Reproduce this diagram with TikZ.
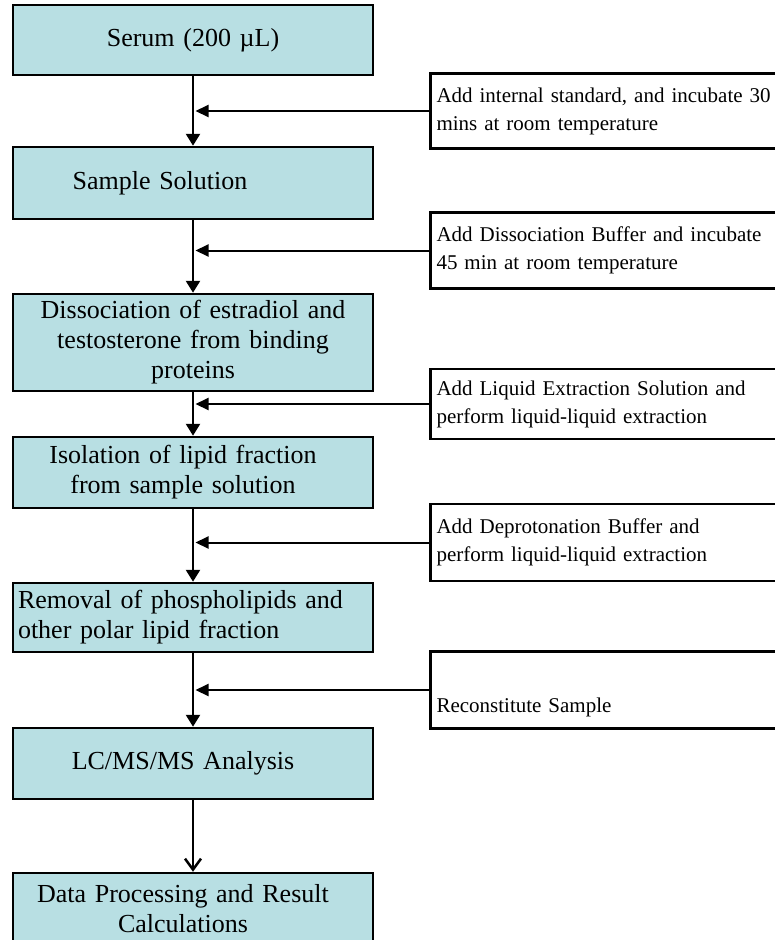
\documentclass[tikz,border=0pt]{standalone}
\usepackage{fontspec}
\setmainfont{Liberation Serif}
\usetikzlibrary{arrows.meta,positioning,calc}
\definecolor{stepfill}{RGB}{184,223,227}
\newcommand{\pushleft}[1]{\hspace{#1}\mbox{}}

\begin{document}
\begin{tikzpicture}[
  x=1pt, y=-1pt,
  stage/.style={rectangle, draw, line width=2.5pt, fill=stepfill,
                text width=350pt, align=center, inner xsep=5pt,
                font=\fontsize{26}{30}\selectfont, minimum height=71pt},
  note/.style={rectangle, draw, line width=2.2pt, fill=white,
               text width=345pt, align=left, inner xsep=6pt,
               font=\fontsize{21}{28}\selectfont, minimum height=76pt},
  arr/.style={draw, line width=2.5pt, -{Triangle[length=12pt,width=14pt]}},
  harr/.style={draw, line width=2pt, -{Triangle[length=13pt,width=12pt]},
               shorten >=2.5pt},
  oarr/.style={draw, line width=2.5pt, -{Straight Barb[length=11pt,width=16pt]}},
  node distance=71.5pt
]
\useasboundingbox (0,0) rectangle (775,940);
\clip (0,0) rectangle (775,940);

% main stages
\node[stage, minimum height=70pt] (serum) at (193,40) {Serum (200 µL)};
\node[stage, below=69.5pt of serum, minimum height=72pt] (sample)
  {Sample Solution\pushleft{66pt}};
\node[stage, below=72.5pt of sample, minimum height=97pt] (dissoc)
  {Dissociation of estradiol and\\testosterone from binding\\proteins};
\node[stage, below=43.5pt of dissoc] (isol)
  {Isolation of lipid fraction\pushleft{20pt}\\from sample solution\pushleft{20pt}};
\node[stage, below=72.5pt of isol, minimum height=69pt, align=left] (remov)
  {Removal of phospholipids and\\other polar lipid fraction};
\node[stage, below=73.5pt of remov] (lcms) {LC/MS/MS Analysis\pushleft{20pt}};
\node[stage, below=of lcms, minimum height=72pt] (data)
  {Data Processing and Result\pushleft{20pt}\\Calculations\pushleft{20pt}};

% added reagents / steps
\node[note, minimum height=75pt] (istd) at ($(serum.south)!.5!(sample.north)+(416,0)$)
  {Add internal standard, and incubate 30\\mins at room temperature};
\node[note] (dbuf) at ($(sample.south)!.5!(dissoc.north)+(416,-6)$)
  {Add Dissociation Buffer and incubate\\45 min at room temperature};
\node[note, minimum height=70pt] (lext) at ($(dissoc.south)!.5!(isol.north)+(416,-10)$)
  {Add Liquid Extraction Solution and\\perform liquid-liquid extraction};
\node[note, minimum height=77pt] (dprot) at ($(isol.south)!.5!(remov.north)+(416,-3)$)
  {Add Deprotonation Buffer and\\perform liquid-liquid extraction};
\node[note, minimum height=77pt] (recon) at ($(remov.south)!.5!(lcms.north)+(416,0)$)
  {\raisebox{-50pt}{Reconstitute Sample}};

\draw[arr] (serum) -- (sample);
\draw[arr] (sample) -- (dissoc);
\draw[arr] (dissoc) -- (isol);
\draw[arr] (isol) -- (remov);
\draw[arr] (remov) -- (lcms);
\draw[oarr] (lcms) -- (data);

\draw[harr] (istd.west) -- (istd.west -| serum.south);
\draw[harr] (dbuf.west) -- (dbuf.west -| serum.south);
\draw[harr] (lext.west) -- (lext.west -| serum.south);
\draw[harr] (dprot.west) -- (dprot.west -| serum.south);
\draw[harr] (recon.west) -- (recon.west -| serum.south);
\end{tikzpicture}
\end{document}
